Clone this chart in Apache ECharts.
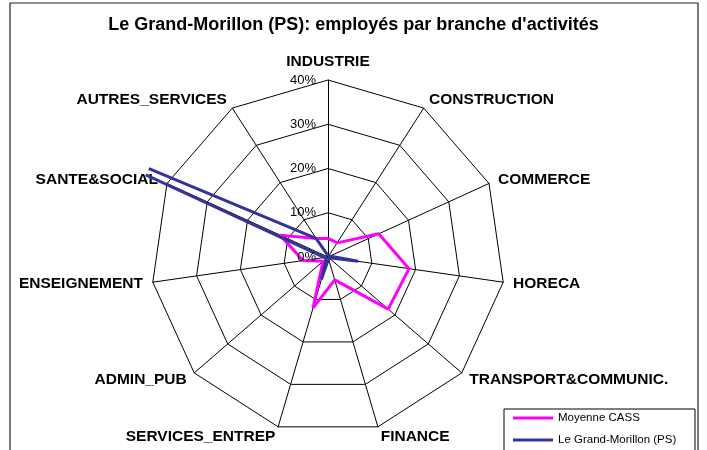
<!DOCTYPE html>
<html>
<head>
<meta charset="utf-8">
<script src="https://cdn.jsdelivr.net/npm/echarts@6/dist/echarts.min.js"></script>
<style>
  html, body { margin: 0; padding: 0; background: #fff; }
  #chart { width: 707px; height: 450px; }
</style>
</head>
<body>
<div id="chart"></div>
<script>
// branches, dans l'ordre horaire à partir du haut
var categories = ['INDUSTRIE', 'CONSTRUCTION', 'COMMERCE', 'HORECA', 'TRANSPORT&COMMUNIC.',
    'FINANCE', 'SERVICES_ENTREP', 'ADMIN_PUB', 'ENSEIGNEMENT', 'SANTE&SOCIAL', 'AUTRES_SERVICES'];
var seriesNames = ['Moyenne CASS', 'Le Grand-Morillon (PS)'];
// valeurs en %
var moyenneCass = [4.2, 3.8, 12.6, 18.5, 18.0, 5.4, 12.0, 1.5, 5.7, 11.9, 5.0];
var grandMorillon = [0.3, 0.2, 0.4, 6.9, 0.3, 0.2, 5.3, 0.5, 0.3, 86, 5.0];
var ticks = [0, 10, 20, 30, 40];

var FONT = 'Liberation Sans, Arial, sans-serif';
var cx = 328, cy = 257, R = 177;      // grille radar (40% = R)
var clipR = 200;                       // zone de tracé (lignes coupées au-delà)
var maxVal = ticks[ticks.length - 1];

// echarts dispose les indicateurs radar dans le sens anti-horaire -> on inverse
var indicators = [categories[0]].concat(categories.slice(1).reverse()).map(function (c) {
    return { name: c, max: maxVal };
});

// les séries passent par un repère polaire superposé (sens horaire) pour pouvoir couper le pic
function toPolar(arr) {
    var out = arr.map(function (v, i) { return [v, i]; });
    out.push([arr[0], arr.length]);
    return out;
}

var chart = echarts.init(document.getElementById('chart'));
chart.setOption({
    animation: false,
    backgroundColor: '#fff',
    title: {
        text: 'Le Grand-Morillon (PS): employés par branche d\'activités',
        left: 'center', top: 11,
        textStyle: { fontFamily: FONT, fontSize: 18, fontWeight: 'bold', color: '#000' }
    },
    legend: {
        data: seriesNames,
        orient: 'vertical',
        left: 513, top: 412,
        padding: 0,
        icon: 'rect',
        itemWidth: 40, itemHeight: 3, itemGap: 10,
        textStyle: { fontFamily: FONT, fontSize: 11.5, color: '#000' }
    },
    graphic: [
        { type: 'rect', shape: { x: 10, y: 3, width: 688, height: 460 },
          style: { fill: null, stroke: '#222', lineWidth: 1.2 }, silent: true },
        { type: 'rect', shape: { x: 504, y: 409, width: 191, height: 50 },
          style: { fill: '#fff', stroke: '#000', lineWidth: 1 }, silent: true, z: -1 }
    ],
    radar: {
        center: [cx, cy],
        radius: R,
        startAngle: 90,
        splitNumber: 4,
        shape: 'polygon',
        indicator: indicators,
        axisName: { color: '#000', fontFamily: FONT, fontSize: 15.5, fontWeight: 'bold' },
        nameGap: 10,
        axisLine: { lineStyle: { color: '#000', width: 1 } },
        splitLine: { lineStyle: { color: '#000', width: 1 } },
        splitArea: { show: false }
    },
    polar: { center: [cx, cy], radius: clipR },
    angleAxis: { type: 'value', min: 0, max: categories.length, startAngle: 90, clockwise: true, show: false },
    radiusAxis: {
        type: 'value', min: 0, max: maxVal * clipR / R, interval: 10,
        axisLine: { show: false }, axisTick: { show: false }, splitLine: { show: false },
        axisLabel: {
            margin: 12,
            fontFamily: FONT, fontSize: 13, color: '#000',
            formatter: function (v) { return ticks.indexOf(v) >= 0 ? v + '%' : ''; }
        },
        z: 5
    },
    series: [
        { name: seriesNames[0], type: 'line', coordinateSystem: 'polar', data: toPolar(moyenneCass),
          symbol: 'none', lineStyle: { color: '#FF00FF', width: 3 }, itemStyle: { color: '#FF00FF' } },
        { name: seriesNames[1], type: 'line', coordinateSystem: 'polar', data: toPolar(grandMorillon),
          symbol: 'none', lineStyle: { color: '#333399', width: 3 }, itemStyle: { color: '#333399' } }
    ]
});
</script>
</body>
</html>
